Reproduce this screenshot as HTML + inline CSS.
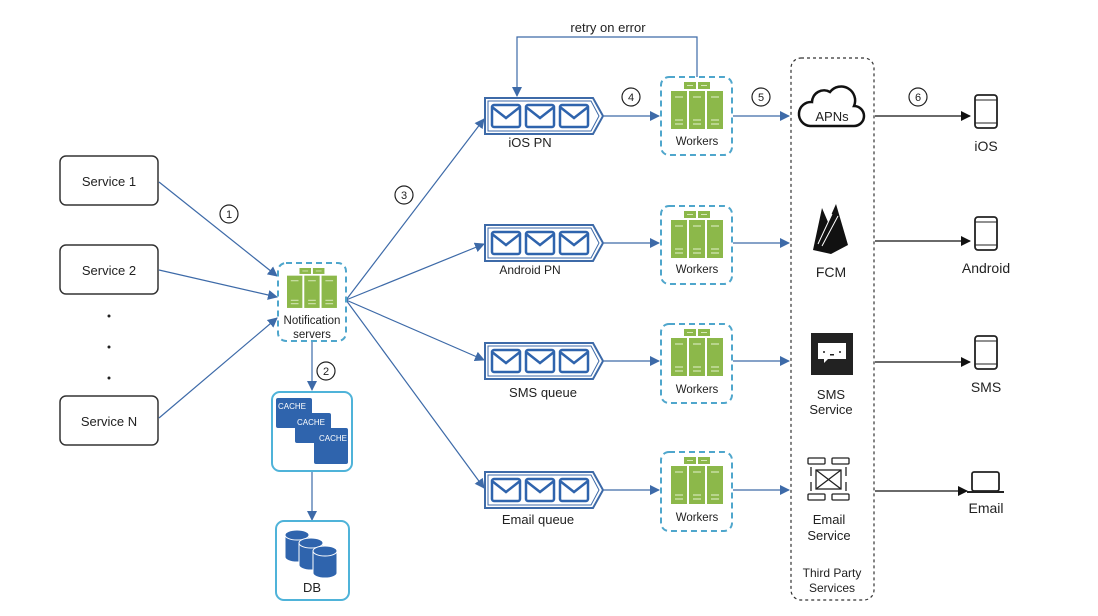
<!DOCTYPE html>
<html><head><meta charset="utf-8"><style>
html,body{margin:0;padding:0;background:#fff;}
svg{display:block;font-family:"Liberation Sans",sans-serif;}
</style></head><body>
<svg width="1098" height="616" viewBox="0 0 1098 616" xmlns="http://www.w3.org/2000/svg">
<defs>
<marker id="ab" markerWidth="10" markerHeight="10" refX="9" refY="5" orient="auto" markerUnits="userSpaceOnUse"><path d="M0,0 L10,5 L0,10 z" fill="#3d6aa8"/></marker>
<marker id="ak" markerWidth="10" markerHeight="10" refX="9" refY="5" orient="auto" markerUnits="userSpaceOnUse"><path d="M0,0 L10,5 L0,10 z" fill="#111"/></marker>
<g id="srv">
<rect x="13" y="0" width="12" height="7" fill="#8cb84a"/><rect x="27" y="0" width="12" height="7" fill="#8cb84a"/>
<line x1="16" y1="3.5" x2="22" y2="3.5" stroke="#d7e8b8"/><line x1="30" y1="3.5" x2="36" y2="3.5" stroke="#d7e8b8"/>
<rect x="0" y="9" width="16" height="38" fill="#8cb84a"/><rect x="18" y="9" width="16" height="38" fill="#8cb84a"/><rect x="36" y="9" width="16" height="38" fill="#8cb84a"/>
<g stroke="#d7e8b8" stroke-width="1.2"><line x1="4" y1="15" x2="12" y2="15"/><line x1="22" y1="15" x2="30" y2="15"/><line x1="40" y1="15" x2="48" y2="15"/>
<line x1="4" y1="38" x2="12" y2="38"/><line x1="22" y1="38" x2="30" y2="38"/><line x1="40" y1="38" x2="48" y2="38"/>
<line x1="4" y1="42" x2="12" y2="42"/><line x1="22" y1="42" x2="30" y2="42"/><line x1="40" y1="42" x2="48" y2="42"/></g>
</g>
<g id="q">
<path d="M0,0 H108 L118,18 L108,36 H0 Z" fill="none" stroke="#3d6aa8" stroke-width="2"/>
<path d="M3,3 H106 L114,18 L106,33 H3 Z" fill="none" stroke="#3d6aa8" stroke-width="1"/>
<g fill="none" stroke="#2f64ad" stroke-width="2.5">
<rect x="7" y="7" width="28" height="22" rx="2"/><path d="M7,9 L21,20 L35,9"/>
<rect x="41" y="7" width="28" height="22" rx="2"/><path d="M41,9 L55,20 L69,9"/>
<rect x="75" y="7" width="28" height="22" rx="2"/><path d="M75,9 L89,20 L103,9"/></g>
</g>
<g id="phone"><rect x="0" y="0" width="22" height="33" rx="3" fill="none" stroke="#222" stroke-width="1.8"/><line x1="0" y1="5" x2="22" y2="5" stroke="#222"/><line x1="0" y1="28" x2="22" y2="28" stroke="#222"/></g>
<g id="cyl"><path d="M0,5 v22 a12,5 0 0 0 24,0 v-22" fill="#2f64ad" stroke="#fff"/><ellipse cx="12" cy="5" rx="12" ry="5" fill="#2f64ad" stroke="#fff"/></g>
</defs>
<g font-size="13" fill="#222" text-anchor="middle">
<g fill="none" stroke="#333" stroke-width="1.5">
<rect x="60" y="156" width="98" height="49" rx="6"/><rect x="60" y="245" width="98" height="49" rx="6"/><rect x="60" y="396" width="98" height="49" rx="6"/></g>
<text x="109" y="186">Service 1</text><text x="109" y="275">Service 2</text><text x="109" y="426">Service N</text>
<circle cx="109" cy="316" r="1.5"/><circle cx="109" cy="347" r="1.5"/><circle cx="109" cy="378" r="1.5"/>
<g stroke="#3d6aa8" stroke-width="1.2" marker-end="url(#ab)" fill="none">
<line x1="159" y1="182" x2="277" y2="276"/><line x1="159" y1="270" x2="277" y2="297"/><line x1="159" y1="418" x2="277" y2="318"/>
<line x1="346" y1="300" x2="484" y2="119"/><line x1="346" y1="300" x2="484" y2="244"/><line x1="346" y1="300" x2="484" y2="360"/><line x1="346" y1="300" x2="484" y2="488"/>
<line x1="312" y1="342" x2="312" y2="390"/><line x1="312" y1="472" x2="312" y2="520"/>
<polyline points="697,77 697,37 517,37 517,96"/>
<line x1="604" y1="116" x2="659" y2="116"/><line x1="604" y1="243" x2="659" y2="243"/><line x1="604" y1="361" x2="659" y2="361"/><line x1="604" y1="490" x2="659" y2="490"/>
<line x1="733" y1="116" x2="789" y2="116"/><line x1="733" y1="243" x2="789" y2="243"/><line x1="733" y1="361" x2="789" y2="361"/><line x1="733" y1="490" x2="789" y2="490"/>
</g>
<g stroke="#111" stroke-width="1.2" marker-end="url(#ak)">
<line x1="875" y1="116" x2="970" y2="116"/><line x1="875" y1="241" x2="970" y2="241"/><line x1="875" y1="362" x2="970" y2="362"/><line x1="875" y1="491" x2="967" y2="491"/></g>
<g fill="#fff" stroke="#222" stroke-width="1.2"><circle cx="229" cy="214" r="9"/><circle cx="326" cy="371" r="9"/><circle cx="404" cy="195" r="9"/><circle cx="631" cy="97" r="9"/><circle cx="761" cy="97" r="9"/><circle cx="918" cy="97" r="9"/></g>
<g font-size="11"><text x="229" y="218">1</text><text x="326" y="375">2</text><text x="404" y="199">3</text><text x="631" y="101">4</text><text x="761" y="101">5</text><text x="918" y="101">6</text></g>
<rect x="278" y="263" width="68" height="78" rx="8" fill="#fff" stroke="#4fa6cc" stroke-width="2" stroke-dasharray="6,4"/>
<g transform="translate(287,268) scale(0.96,0.85)"><use href="#srv"/></g>
<text x="312" y="324" font-size="11.5">Notification</text><text x="312" y="338" font-size="11.5">servers</text>
<rect x="272" y="392" width="80" height="79" rx="8" fill="#fff" stroke="#4fb3d9" stroke-width="2"/>
<g fill="#2f64ad"><rect x="276" y="398" width="36" height="30" rx="2"/><rect x="295" y="413" width="36" height="30" rx="2"/><rect x="314" y="428" width="34" height="36" rx="2"/></g>
<g fill="#fff" font-size="8" text-anchor="start"><text x="278" y="409">CACHE</text><text x="297" y="425">CACHE</text><text x="319" y="441">CACHE</text></g>
<rect x="276" y="521" width="73" height="79" rx="8" fill="#fff" stroke="#4fb3d9" stroke-width="2"/>
<use href="#cyl" x="285" y="530"/><use href="#cyl" x="299" y="538"/><use href="#cyl" x="313" y="546"/>
<text x="312" y="592">DB</text>
<text x="608" y="32" font-size="13">retry on error</text>
<use href="#q" x="485" y="98"/><use href="#q" x="485" y="225"/><use href="#q" x="485" y="343"/><use href="#q" x="485" y="472"/>
<text x="530" y="147">iOS PN</text><text x="530" y="274" font-size="12">Android PN</text><text x="543" y="397">SMS queue</text><text x="538" y="524">Email queue</text>
<g fill="#fff" stroke="#4fa6cc" stroke-width="2" stroke-dasharray="6,4">
<rect x="661" y="77" width="71" height="78" rx="8"/><rect x="661" y="206" width="71" height="78" rx="8"/><rect x="661" y="324" width="71" height="79" rx="8"/><rect x="661" y="452" width="71" height="79" rx="8"/></g>
<use href="#srv" x="671" y="82"/><use href="#srv" x="671" y="211"/><use href="#srv" x="671" y="329"/><use href="#srv" x="671" y="457"/>
<g font-size="11.5"><text x="697" y="145">Workers</text><text x="697" y="273">Workers</text><text x="697" y="393">Workers</text><text x="697" y="521">Workers</text></g>
<rect x="791" y="58" width="83" height="542" rx="10" fill="none" stroke="#333" stroke-width="1.2" stroke-dasharray="3,3"/>
<path d="M810,126 h44 a10,10 0 0 0 0,-20 a14,14 0 0 0 -24,-14 a12,12 0 0 0 -18,10 a11,11 0 0 0 -2,24 z" fill="#fff" stroke="#111" stroke-width="2.5"/>
<text x="832" y="121" font-size="13">APNs</text>
<path d="M813,250 L822,208 L828,222 L836,204 L848,245 L831,254 Z" fill="#111"/>
<path d="M818,244 L832,214 M822,246 L838,216" stroke="#fff" stroke-width="1"/>
<text x="831" y="277" font-size="14">FCM</text>
<rect x="811" y="333" width="42" height="42" fill="#222"/>
<path d="M818,343 h28 v16 h-18 l-4,4 v-4 h-6 z" fill="#fff"/>
<g fill="#222"><circle cx="824" cy="352" r="1"/><circle cx="840" cy="352" r="1"/><rect x="830" y="354" width="4" height="1.5"/></g>
<text x="831" y="399">SMS</text><text x="831" y="414">Service</text>
<g fill="none" stroke="#222" stroke-width="1.3">
<rect x="808" y="458" width="17" height="6" rx="1"/><rect x="832" y="458" width="17" height="6" rx="1"/>
<rect x="808" y="494" width="17" height="6" rx="1"/><rect x="832" y="494" width="17" height="6" rx="1"/>
<rect x="816" y="470" width="25" height="19"/><path d="M816,470 L841,489 M841,470 L816,489"/>
<path d="M811,467 v9 M811,482 v9 M846,467 v9 M846,482 v9"/></g>
<text x="829" y="524">Email</text><text x="829" y="540">Service</text>
<text x="832" y="577" font-size="12">Third Party</text><text x="832" y="592" font-size="12">Services</text>
<use href="#phone" x="975" y="95"/><use href="#phone" x="975" y="217"/><use href="#phone" x="975" y="336"/>
<text x="986" y="151" font-size="14">iOS</text><text x="986" y="273" font-size="14">Android</text><text x="986" y="392" font-size="14">SMS</text>
<rect x="972" y="472" width="27" height="19" rx="2" fill="none" stroke="#222" stroke-width="1.8"/>
<path d="M967,491 h37 v2 h-37 z" fill="#222"/>
<text x="986" y="513" font-size="14">Email</text>
</g>
</svg>
</body></html>
